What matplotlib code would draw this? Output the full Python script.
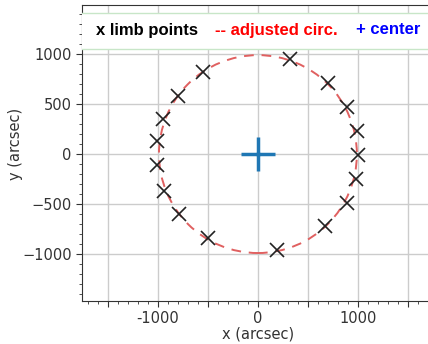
import matplotlib
matplotlib.use("Agg")
import matplotlib.pyplot as plt
from matplotlib.patches import Circle, Rectangle
from matplotlib.ticker import MultipleLocator

# limb points (arcsec)
limb_x = [320, -550, -800, -950, -1005, -1005, -940, -790, -500, 190,
          670, 890, 980, 1005, 990, 890, 700]
limb_y = [950, 820, 580, 350, 130, -110, -370, -600, -840, -960,
          -720, -490, -250, -5, 230, 470, 710]
center_x, center_y = 0, 0
radius = 990

xtick_pos = [-1500, -1000, -500, 0, 500, 1000, 1500]
xtick_lab = ['', '-1000', '', '0', '', '1000', '']

fig = plt.figure(figsize=(4.28, 3.44), dpi=100)
ax = fig.add_axes([0.1916, 0.125, 0.822, 0.860])

ax.grid(True, color='#cccccc', linewidth=1.0, zorder=0)
ax.set_axisbelow(True)

circ = Circle((center_x, center_y), radius, fill=False, color='#e06060',
              linestyle=(0, (5, 4)), linewidth=1.4, zorder=2)
ax.add_patch(circ)
ax.plot(limb_x, limb_y, 'x', color='#222222', markersize=9.5, mew=1.2, zorder=3)
ax.plot([center_x], [center_y], '+', color='#1f77b4', markersize=24, mew=2.5, zorder=3)

ax.set_xlim(-1760, 1760)
ax.set_ylim(-1470, 1490)
ax.set_xticks(xtick_pos, xtick_lab)
ax.yaxis.set_major_locator(MultipleLocator(500))
ax.xaxis.set_minor_locator(MultipleLocator(100))
ax.yaxis.set_minor_locator(MultipleLocator(100))
ax.tick_params(which='major', labelsize=10.5, length=4, colors='#333333')
ax.tick_params(which='minor', length=2, colors='#333333')
ax.set_xlabel('x (arcsec)', fontsize=10.5, color='#333333', labelpad=0)
ax.set_ylabel('y (arcsec)', fontsize=10.5, color='#333333')
ax.yaxis.set_label_coords(-0.168, 0.53)
for s in ax.spines.values():
    s.set_color('#333333')

# white header band with the key
band_lo, band_hi = 0.853, 0.975
ax.add_patch(Rectangle((0, band_lo), 1.0, band_hi - band_lo, transform=ax.transAxes,
                       facecolor='white', edgecolor='none', zorder=4))
for yb in (band_lo, band_hi):
    ax.plot([0, 1], [yb, yb], transform=ax.transAxes, color='#c8e6c8',
            linewidth=1.0, zorder=4.5)

fkw = dict(fontsize=12, fontweight='bold', family=['Liberation Sans', 'DejaVu Sans'],
           transform=fig.transFigure, va='center', zorder=5)
fig.text(96 / 428, 1 - 30 / 344, 'x limb points', color='black', **fkw)
fig.text(215 / 428, 1 - 30 / 344, '-- adjusted circ.', color='red', **fkw)
fig.text(356 / 428, 1 - 30 / 344, '+ center', color='blue', **fkw)

fig.savefig('out.png', dpi=100)
